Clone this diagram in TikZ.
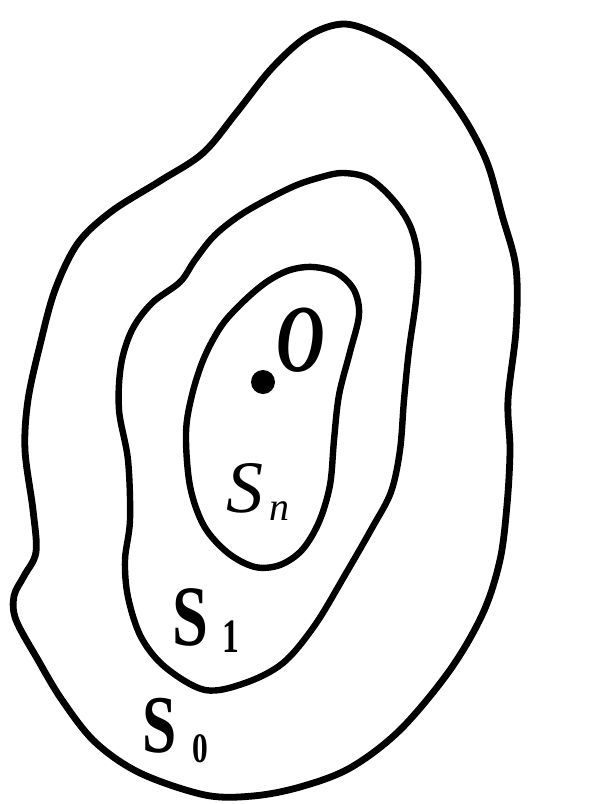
\documentclass[tikz,border=0pt]{standalone}
\usepackage{fontspec}
\usepackage{graphicx}
\setmainfont{Liberation Serif}
\begin{document}
\begin{tikzpicture}[x=1pt,y=-1pt,
  curve/.style={line width=6.4pt, line join=round},
  lbl/.style={inner sep=0pt, anchor=base west}]
\useasboundingbox (0,0) rectangle (597,804);
% outer curve S0
\draw[curve, line width=6.8pt] plot[smooth cycle, tension=0.55] coordinates {
(345,24) (385,38) (420,62) (448,95) (470,128) (488,165) (502,215) (516,268)
(516,330) (508,400) (510,450) (507,505) (500,560) (483,613) (450,670) (400,730)
(350,768) (300,787) (253,796) (205,795) (140,773) (95,742) (62,700)
(38,660) (16,620) (14,596) (24,576) (36,552) (33,510) (25,450)
(28,400) (40,345) (55,290) (78,243) (112,211) (160,181) (203,153)
(237,112) (272,68) (308,36)};
% middle curve S1
\draw[curve] plot[smooth cycle, tension=0.55] coordinates {
(343,173) (370,179) (395,202) (411,228) (418,260) (416,300) (409,350)
(404,400) (400,450) (391,492) (372,528) (345,575) (315,625) (283,663)
(245,683) (205,690) (165,667) (141,637) (128,597) (125,560) (130,520)
(128,460) (119,410) (121,365) (132,330) (152,303) (180,282) (195,260)
(215,235) (245,212) (290,188) (318,178)};
% inner curve Sn
\draw[curve] plot[smooth cycle, tension=0.55] coordinates {
(313,267) (337,273) (354,290) (359,315) (350,352) (339,395) (334,440)
(330,485) (319,522) (302,550) (280,565) (255,567) (228,553) (204,526)
(190,486) (186,433) (192,395) (204,358) (222,325) (245,300) (268,281) (290,270)};
% point O
\fill (263,382) circle[radius=12] coordinate (dotO);
\node[lbl] (O) at (276,371) {\scalebox{0.7}[1]{\fontsize{96}{96}\selectfont\bfseries\itshape O}};
% labels
\node[lbl] (Sn) at (226,512) {\fontsize{74}{74}\selectfont\itshape S\hspace{6pt}\raisebox{-8pt}{\fontsize{40}{40}\selectfont n}};
\node[lbl] (S1) at (172,645) {\scalebox{0.75}[1]{\fontsize{86}{86}\selectfont\bfseries S}\hspace{14pt}\raisebox{-7pt}{\scalebox{0.7}[1]{\fontsize{48}{48}\selectfont\bfseries 1}}};
\node[lbl] (S0) at (142,752) {\scalebox{0.75}[1]{\fontsize{82}{82}\selectfont\bfseries S}\hspace{16pt}\raisebox{-10pt}{\scalebox{0.75}[1]{\fontsize{42}{42}\selectfont\bfseries 0}}};
\end{tikzpicture}
\end{document}
